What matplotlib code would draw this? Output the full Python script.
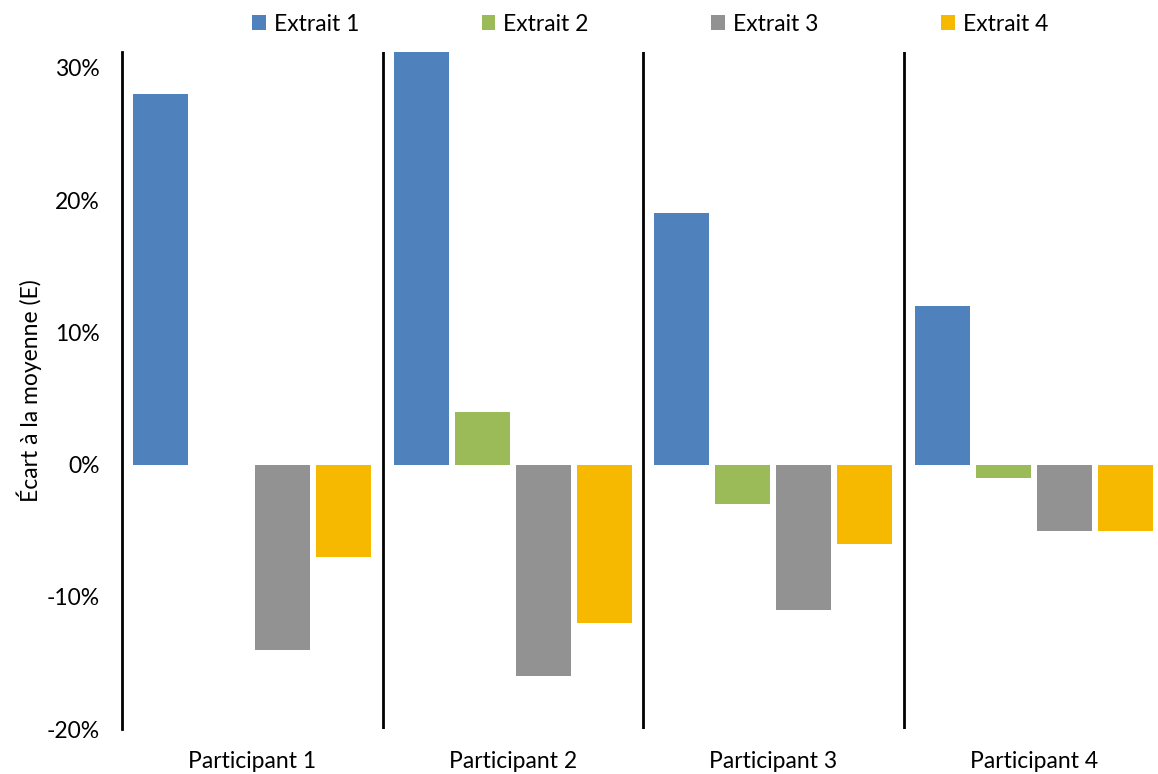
import matplotlib
matplotlib.use("Agg")
import matplotlib.pyplot as plt
from matplotlib.ticker import PercentFormatter
import numpy as np

plt.rcParams["axes.unicode_minus"] = False

participants = ["Participant 1", "Participant 2", "Participant 3", "Participant 4"]
series_names = ["Extrait 1", "Extrait 2", "Extrait 3", "Extrait 4"]
extrait1 = [0.28, 0.32, 0.19, 0.12]
extrait2 = [0.0, 0.04, -0.03, -0.01]
extrait3 = [-0.14, -0.16, -0.11, -0.05]
extrait4 = [-0.07, -0.12, -0.06, -0.05]
yticks = [-0.2, -0.1, 0.0, 0.1, 0.2, 0.3]

colors = ["#4F81BD", "#9BBB59", "#929292", "#F7B900"]
font = "Lato"
fs = 16.5

fig = plt.figure(figsize=(11.58, 7.74), dpi=100)
ax = fig.add_axes([122/1158, 45/774, (1164-122)/1158, (729-52)/774])

x = np.arange(len(participants)) + 0.5
pitch = 0.234
width = 0.211
for j, (vals, name) in enumerate(zip([extrait1, extrait2, extrait3, extrait4], series_names)):
    ax.bar(x + (j - 1.5) * pitch, vals, width, color=colors[j], label=name, zorder=2)

ax.set_xlim(0, 4)
ax.set_ylim(-0.2, 0.312)
ax.set_yticks(yticks)
ax.yaxis.set_major_formatter(PercentFormatter(1.0, decimals=0))
ax.set_xticks(x)
ax.set_xticklabels(participants, fontfamily=font, fontsize=fs)
for lbl in ax.get_yticklabels():
    lbl.set_fontfamily(font)
    lbl.set_fontsize(fs)
ax.tick_params(axis="both", length=0)
ax.tick_params(axis="y", pad=16)
ax.tick_params(axis="x", pad=16)

for s in ["top", "right", "bottom"]:
    ax.spines[s].set_visible(False)
ax.spines["left"].set_linewidth(2)
ax.spines["left"].set_color("black")
for xv in [1, 2, 3]:
    ax.axvline(xv, color="black", linewidth=2, zorder=3)

ax.set_ylabel("Écart à la moyenne (E)", fontfamily=font, fontsize=fs, labelpad=3)

fig.legend(loc="upper center", bbox_to_anchor=(650/1158, 1.0), ncol=4, frameon=False,
           prop={"family": font, "size": fs}, handlelength=0.6, handleheight=0.6,
           handletextpad=0.35, columnspacing=5.35, borderaxespad=0.2)

fig.savefig("out.png", dpi=100)
